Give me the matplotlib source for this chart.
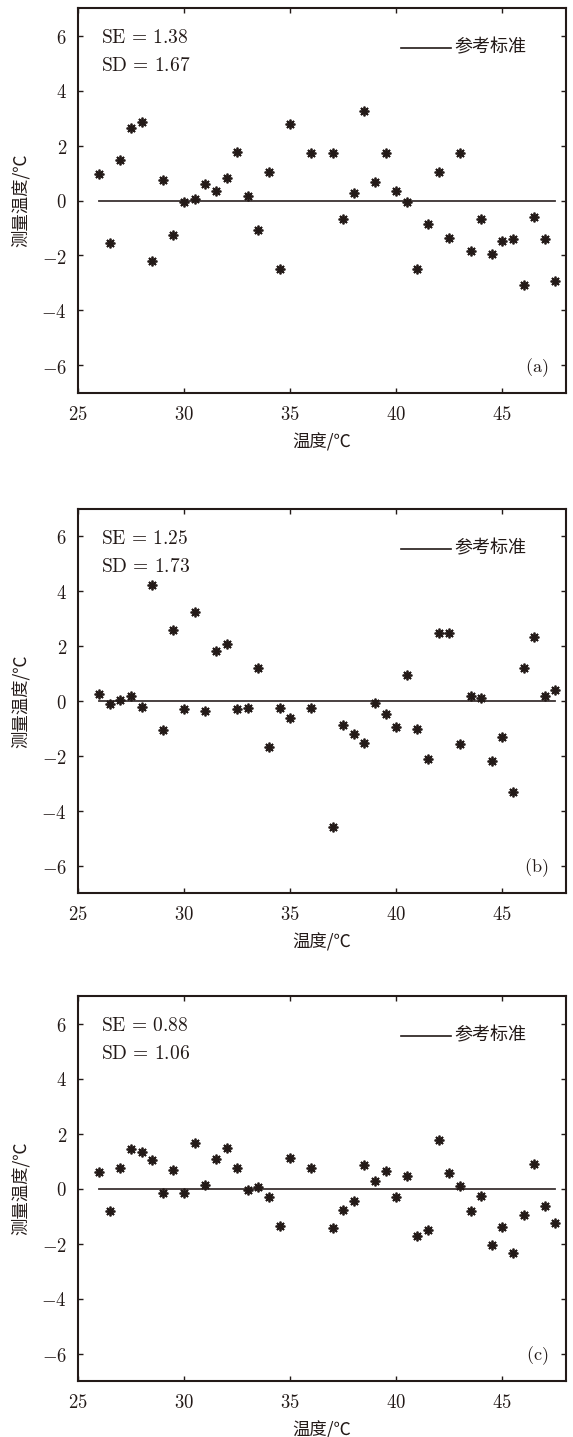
import matplotlib
matplotlib.use("Agg")
import matplotlib.pyplot as plt
from matplotlib.ticker import FixedLocator, FixedFormatter

plt.rcParams['mathtext.fontset'] = 'cm'
plt.rcParams['font.family'] = ['Noto Sans CJK SC', 'DejaVu Sans']

# ---------------- data ----------------
temps = [26, 26.5, 27, 27.5, 28, 28.5, 29, 29.5, 30, 30.5, 31, 31.5, 32, 32.5,
         33, 33.5, 34, 34.5, 35, 36, 37, 37.5, 38, 38.5, 39, 39.5, 40, 40.5,
         41, 41.5, 42, 42.5, 43, 43.5, 44, 44.5, 45, 45.5, 46, 46.5, 47, 47.5]

err_a = [0.95, -1.55, 1.48, 2.64, 2.84, -2.21, 0.75, -1.27, -0.04, 0.04, 0.61,
         0.33, 0.82, 1.78, 0.15, -1.07, 1.05, -2.50, 2.80, 1.72, 1.72, -0.67,
         0.28, 3.25, 0.67, 1.72, 0.36, -0.04, -2.48, -0.85, 1.05, -1.38, 1.72,
         -1.82, -0.67, -1.94, -1.48, -1.41, -3.09, -0.61, -1.41, -2.93]

err_b = [0.27, -0.12, 0.02, 0.17, -0.22, 4.23, -1.04, 2.58, -0.29, 3.26, -0.38,
         1.81, 2.08, -0.28, -0.25, 1.20, -1.67, -0.27, -0.61, -0.27, -4.61,
         -0.87, -1.21, -1.53, -0.06, -0.46, -0.95, 0.96, -1.01, -2.13, 2.48,
         2.48, -1.55, 0.19, 0.12, -2.19, -1.33, -3.30, 1.21, 2.35, 0.17, 0.41]

err_c = [0.61, -0.82, 0.75, 1.42, 1.32, 1.02, -0.15, 0.67, -0.15, 1.65, 0.11,
         1.08, 1.47, 0.75, -0.05, 0.07, -0.32, -1.36, 1.12, 0.73, -1.43, -0.78,
         -0.45, 0.86, 0.29, 0.64, -0.32, 0.47, -1.72, -1.50, 1.77, 0.56, 0.10,
         -0.80, -0.27, -2.07, -1.41, -2.34, -0.95, 0.90, -0.62, -1.26]

ref_x = [26, 47.5]
ref_y = [0, 0]

se_values = ["1.38", "1.25", "0.88"]
sd_values = ["1.67", "1.73", "1.06"]
panel_tags = ["(a)", "(b)", "(c)"]

xticks = [25, 30, 35, 40, 45]
xticklabels = ["25", "30", "35", "40", "45"]
yticks = [-6, -4, -2, 0, 2, 4, 6]
yticklabels = [r"$-6$", r"$-4$", r"$-2$", r"$0$", r"$2$", r"$4$", r"$6$"]

xlabel = "温度/℃"
ylabel = "测量温度/℃"
legend_label = "参考标准"

# ---------------- figure ----------------
W, H = 573, 1437
fig = plt.figure(figsize=(W / 100, H / 100), dpi=100)

ink = "#231a18"
left = 78 / W
width = 488 / W
panels = [(8, 393), (509, 893), (996, 1381)]

for i, (err, (top, bot)) in enumerate(zip([err_a, err_b, err_c], panels)):
    ax = fig.add_axes([left, 1 - bot / H, width, (bot - top) / H])
    ax.plot(ref_x, ref_y, color="#3a3232", lw=1.3, zorder=2)
    ax.plot(temps, err, linestyle="none", marker=(8, 2, 0), markersize=7,
            markeredgewidth=1.3, color=ink, zorder=3)
    ax.set_xlim(25, 48)
    ax.set_ylim(-7, 7)
    ax.xaxis.set_major_locator(FixedLocator(xticks))
    ax.xaxis.set_major_formatter(FixedFormatter([f"${t}$" for t in xticklabels]))
    ax.yaxis.set_major_locator(FixedLocator(yticks))
    ax.yaxis.set_major_formatter(FixedFormatter(yticklabels))
    ax.tick_params(direction="in", length=3.8, width=1.0, top=True, right=True,
                   labelsize=13.5, colors=ink, pad=8)
    for sp in ax.spines.values():
        sp.set_linewidth(1.5)
        sp.set_color(ink)
    ax.set_xlabel(xlabel, fontsize=12.5, color=ink, labelpad=6)
    ax.set_ylabel(ylabel, fontsize=12.5, color=ink, labelpad=8)

    ax.text(0.048, 0.923, r"$\mathrm{SE}\,=\,%s$" % se_values[i], transform=ax.transAxes,
            fontsize=14, color=ink, ha="left", va="center")
    ax.text(0.048, 0.851, r"$\mathrm{SD}\,=\,%s$" % sd_values[i], transform=ax.transAxes,
            fontsize=14, color=ink, ha="left", va="center")

    # legend
    ax.plot([0.661, 0.765], [0.897, 0.897], transform=ax.transAxes, color=ink, lw=1.2)
    ax.text(0.772, 0.897, legend_label, transform=ax.transAxes, fontsize=13,
            color=ink, ha="left", va="center")
    ax.text(0.963, 0.066, r"$\mathrm{%s}$" % panel_tags[i], transform=ax.transAxes,
            fontsize=13, color=ink, ha="right", va="center")

fig.savefig("out.png", dpi=100, facecolor="white")
